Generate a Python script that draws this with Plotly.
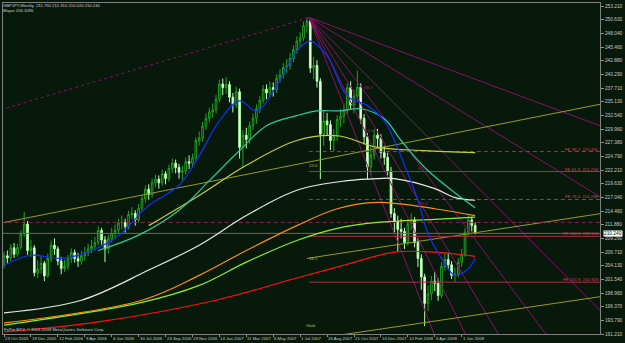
import plotly.graph_objects as go

# ---------------- data (weekly GBPJPY, bar index 0 = 23 Oct 2005) ----------------
week_idx = list(range(141))
opens = [204.3,206.0,205.6,207.5,206.3,207.6,210.2,212.0,207.0,207.5,
 202.8,203.5,204.6,202.2,205.5,208.0,207.3,205.0,203.6,204.0,
 205.5,206.6,205.5,205.0,206.0,206.6,207.3,207.8,208.5,210.8,
 209.0,207.3,209.2,210.2,210.8,212.2,212.3,211.5,213.8,214.0,
 212.8,215.0,216.8,218.6,217.6,219.8,220.5,219.8,221.5,220.6,
 222.5,223.5,222.7,221.8,222.0,223.8,223.5,224.5,227.8,228.3,
 230.5,232.0,233.2,233.6,235.6,238.5,237.8,238.4,236.0,234.6,
 237.0,226.5,228.8,228.0,230.6,232.0,233.8,235.4,237.5,236.8,
 237.8,237.4,239.5,240.2,241.6,242.0,243.3,245.0,246.6,247.2,
 249.5,250.4,241.5,242.0,239.0,229.0,231.5,230.8,227.8,228.6,
 231.8,232.4,233.5,237.8,234.5,236.2,237.9,232.0,228.5,222.8,
 225.0,228.8,228.2,225.5,224.6,222.0,214.0,212.5,211.0,210.6,
 208.5,212.0,212.8,208.5,205.5,202.0,197.0,198.8,201.2,200.8,
 198.5,204.0,205.3,204.3,202.3,202.5,204.8,206.2,210.5,212.8,
 211.75]
closes = [206.0,205.6,207.5,206.3,207.6,210.2,212.0,207.0,207.5,202.8,
 203.5,204.6,202.2,205.5,208.0,207.3,205.0,203.6,204.0,205.5,
 206.6,205.5,205.0,206.0,206.6,207.3,207.8,208.5,210.8,209.0,
 207.3,209.2,210.2,210.8,212.2,212.3,211.5,213.8,214.0,212.8,
 215.0,216.8,218.6,217.6,219.8,220.5,219.8,221.5,220.6,222.5,
 223.5,222.7,221.8,222.0,223.8,223.5,224.5,227.8,228.3,230.5,
 232.0,233.2,233.6,235.6,238.5,237.8,238.4,236.0,234.6,237.0,
 226.5,228.8,228.0,230.6,232.0,233.8,235.4,237.5,236.8,237.8,
 237.4,239.5,240.2,241.6,242.0,243.3,245.0,246.6,247.2,249.5,
 250.4,241.5,242.0,239.0,229.0,231.5,230.8,227.8,228.6,231.8,
 232.4,233.5,237.8,234.5,236.2,237.9,232.0,228.5,222.8,225.0,
 228.8,228.2,225.5,224.6,222.0,214.0,212.5,211.0,210.6,208.5,
 212.0,212.8,208.5,205.5,202.0,197.0,198.8,201.2,200.8,198.5,
 204.0,205.3,204.3,202.3,202.5,204.8,206.2,210.5,212.8,211.75,
 210.24]
highs = [206.8,207.0,208.2,208.4,208.3,210.8,214.3,212.6,209.0,208.0,
 205.2,205.9,205.0,206.4,208.9,209.3,207.8,205.8,205.3,206.2,
 207.4,207.2,206.5,206.9,207.7,208.3,209.0,209.6,211.6,211.3,
 209.7,210.0,211.3,211.9,213.0,213.6,213.0,214.5,215.2,214.6,
 215.8,217.5,219.3,219.5,220.6,221.4,221.2,222.3,222.0,223.2,
 224.4,224.2,223.4,223.0,224.6,225.0,225.3,228.4,229.5,231.3,
 232.9,234.0,234.8,236.4,239.3,239.5,239.8,239.0,236.8,238.0,
 237.6,229.8,230.2,231.4,232.9,234.6,236.2,238.3,238.4,238.9,
 238.8,240.3,241.3,242.4,243.2,244.3,245.8,247.5,248.3,250.3,
 251.1,250.8,243.6,243.0,239.6,233.4,233.0,231.6,230.0,232.6,
 233.8,234.8,238.6,239.0,237.4,241.0,238.6,232.8,229.2,226.8,
 229.9,230.0,229.0,226.8,225.5,222.8,215.0,213.6,213.0,211.3,
 212.9,214.0,213.3,209.3,206.3,202.6,200.4,202.2,203.0,201.8,
 204.8,206.4,206.6,205.0,203.8,205.6,207.3,211.2,213.6,213.4,
 212.31]
lows = [203.6,204.5,205.0,205.6,205.8,207.2,209.6,206.2,205.8,202.1,
 201.8,202.6,201.2,201.9,204.8,206.2,204.2,202.5,202.9,203.3,
 204.6,204.7,203.9,204.3,205.1,205.9,206.5,207.0,208.0,208.1,
 204.8,206.4,208.5,209.2,210.1,211.0,210.4,211.0,212.9,211.7,
 212.3,214.4,216.1,216.6,217.0,218.9,218.7,219.2,219.5,220.0,
 221.7,221.6,220.6,220.3,221.4,222.4,222.7,224.0,226.8,227.6,
 229.8,231.2,232.1,232.9,235.0,236.4,236.6,235.0,233.1,233.9,
 224.4,222.6,226.3,227.2,229.8,231.0,233.0,234.8,235.6,236.0,
 236.1,236.8,238.8,239.5,240.6,241.2,242.6,244.2,245.5,246.6,
 248.2,240.6,239.4,237.8,220.5,226.8,228.7,226.0,225.8,227.7,
 230.4,231.0,232.8,233.6,233.0,235.4,231.0,227.0,220.5,221.4,
 224.2,226.3,224.4,223.2,221.2,213.2,210.4,206.8,209.3,207.3,
 207.9,210.9,207.6,203.9,199.6,192.7,195.5,197.6,199.3,197.5,
 198.0,203.2,203.4,201.6,201.0,202.0,203.9,205.8,209.8,210.6,
 210.02]

# moving averages (bar index, price)
ma_blue_i = [0,8,17,26,34,43,52,58,64,70,75,81,87,91,96,102,108,113,116,120,123,126,130,134,138,140]
ma_blue_p = [204.2,206.1,205.5,207.0,209.8,215.5,219.3,224.9,231.5,235.3,233.4,238.1,244.7,246.6,243.8,236.2,234.4,231.5,227.8,221.6,216.5,210.2,205.5,202.3,203.6,205.5]
ma_teal_i = [28,40,52,61,70,78,87,93,100,106,113,118,125,133,140]
ma_teal_p = [207.0,209.9,214.6,220.2,225.9,230.6,232.5,233.4,233.4,233.8,231.9,227.8,222.7,218.4,215.1]
ma_white_i = [0,23,43,58,72,87,102,111,116,128,134,140]
ma_white_p = [195.2,197.6,203.3,208.0,213.6,218.4,220.2,220.6,220.6,218.7,217.0,216.5]
ma_yellow_i = [43,58,72,87,99,111,125,140]
ma_yellow_p = [211.7,217.4,223.1,227.8,228.7,226.5,225.9,225.5]
ma_orange_i = [0,41,58,72,87,99,111,128,140]
ma_orange_p = [193.3,197.6,202.3,207.0,211.7,214.9,216.1,214.9,213.6]
ma_lime_i = [0,41,58,72,87,99,111,128,140]
ma_lime_p = [192.9,197.2,200.4,204.8,208.9,211.2,212.3,212.9,213.3]
ma_red_i = [0,28,63,87,102,116,128,140]
ma_red_p = [191.6,193.5,197.6,201.8,204.4,206.7,206.7,205.9]

# price axis labels and time labels
price_ticks = [191.210,193.790,196.370,198.960,201.540,204.130,206.710,209.290,211.880,214.460,
               217.040,219.630,222.210,224.790,227.380,229.960,232.540,235.130,237.710,240.290,
               242.880,245.460,248.040,250.630,253.210]
date_idx = [0,8,16,24,32,40,48,56,64,72,80,88,96,104,112,120,128,136]
date_text = ["23 Oct 2005","18 Dec 2005","12 Feb 2006","9 Apr 2006","4 Jun 2006","30 Jul 2006",
             "24 Sep 2006","19 Nov 2006","14 Jan 2007","11 Mar 2007","6 May 2007","1 Jul 2007",
             "26 Aug 2007","21 Oct 2007","16 Dec 2007","10 Feb 2008","6 Apr 2008","1 Jun 2008"]

# drawn objects
peak_i, peak_p = 90.6, 251.1
fan_end_i = [177.5, 177.5, 177.5, 161.0, 146.9, 137.1, 127.8]
fan_end_p = [230.5, 217.0, 195.4, 191.2, 191.2, 191.2, 191.2]
fan_lbl_i = [108.2, 108.5, 124.3, 124.6]
fan_lbl_p = [237.9, 229.7, 222.5, 215.9]
fan_lbl_t = ["38.2", "50.0", "61.8", "76.4"]
fe_levels = [225.70, 221.93, 216.65, 209.68, 201.01]
fe_text = ["FE 38.2  225.460", "FE 61.8  221.294", "FE 76.4  216.288", "FE 100.0  209.506", "FE 161.8  200.926"]
fe_dash = ["dash", "solid", "dash", "solid", "solid"]
chan_up_i, chan_up_p = [0, 177.5], [212.3, 234.7]
chan_mid_i, chan_mid_p = [90.0, 177.5], [205.5, 214.0]
chan_lo_i, chan_lo_p = [99.7, 177.5], [191.0, 198.3]
chan_lbl_i = [90.0, 90.0, 89.2]
chan_lbl_p = [223.1, 205.5, 192.9]
chan_lbl_t = ["23.6", "38.2", "Glob"]
dotted_i, dotted_p = [-1, 90.6], [233.6, 251.0]
level_dash = 212.32
bid = 210.24

BG = "#07190a"
fig = go.Figure()

for x1, p1 in zip(fan_end_i, fan_end_p):
    fig.add_trace(go.Scatter(x=[peak_i, x1], y=[peak_p, p1], mode="lines",
                             line=dict(color="#8c0f68", width=1), hoverinfo="skip"))
fig.add_trace(go.Scatter(x=dotted_i, y=dotted_p, mode="lines",
                         line=dict(color="#8c0f68", width=1, dash="dot"), hoverinfo="skip"))
for xs, ys in [(chan_up_i, chan_up_p), (chan_mid_i, chan_mid_p), (chan_lo_i, chan_lo_p)]:
    fig.add_trace(go.Scatter(x=xs, y=ys, mode="lines", line=dict(color="#9a9a20", width=1), hoverinfo="skip"))
for lv, dsh in zip(fe_levels, fe_dash):
    fig.add_trace(go.Scatter(x=[90.6, 177.5], y=[lv, lv], mode="lines",
                             line=dict(color="#a83040" if dsh == "solid" else "#c0285a", width=1,
                                       dash="4px,3px" if dsh == "dash" else "solid"),
                             hoverinfo="skip"))
fig.add_trace(go.Scatter(x=[-1, 177.5], y=[level_dash, level_dash], mode="lines",
                         line=dict(color="#a01858", width=1, dash="4px,3px"), hoverinfo="skip"))
fig.add_trace(go.Scatter(x=[-1, 177.5], y=[bid, bid], mode="lines",
                         line=dict(color="#6a6a6a", width=1), hoverinfo="skip"))

fig.add_trace(go.Candlestick(x=week_idx, open=opens, high=highs, low=lows, close=closes,
                             increasing=dict(line=dict(color="#22a022", width=1), fillcolor=BG),
                             decreasing=dict(line=dict(color="#b8ffb0", width=1), fillcolor="#f4ffee"),
                             whiskerwidth=0, hoverinfo="skip"))

for xs, ys, col in [(ma_red_i, ma_red_p, "#ff1010"), (ma_lime_i, ma_lime_p, "#8cf020"),
                    (ma_orange_i, ma_orange_p, "#ff8c10"), (ma_yellow_i, ma_yellow_p, "#c8d030"),
                    (ma_white_i, ma_white_p, "#e8e8e8"), (ma_teal_i, ma_teal_p, "#20d0a0"),
                    (ma_blue_i, ma_blue_p, "#1030ff")]:
    fig.add_trace(go.Scatter(x=xs, y=ys, mode="lines", line=dict(color=col, width=1.2, shape="spline"),
                             hoverinfo="skip"))

F = "Liberation Sans"
ann = []
for i, t in zip(date_idx, date_text):
    ann.append(dict(x=i, y=0, xref="x", yref="paper", text=t, showarrow=False, xanchor="left",
                    yanchor="top", xshift=-1, yshift=0, font=dict(family=F, size=4.3, color="#c8c8c8")))
for lv, t in zip(fe_levels, fe_text):
    ann.append(dict(x=177.1, y=lv, xref="x", yref="y", text=t, showarrow=False, xanchor="right",
                    yanchor="bottom", yshift=-2, xshift=1, font=dict(family=F, size=4.3, color="#d04060")))
for xi, pv, t in zip(fan_lbl_i, fan_lbl_p, fan_lbl_t):
    ann.append(dict(x=xi, y=pv, xref="x", yref="y", text=t, showarrow=False, xanchor="center",
                    font=dict(family=F, size=4.3, color="#b02070")))
for xi, pv, t in zip(chan_lbl_i, chan_lbl_p, chan_lbl_t):
    ann.append(dict(x=xi, y=pv, xref="x", yref="y", text=t, showarrow=False, xanchor="left",
                    font=dict(family=F, size=4.3, color="#b8b840")))
ann.append(dict(x=0, y=1, xref="paper", yref="paper", xanchor="left", yanchor="top", xshift=-2, yshift=2,
                text="GBPJPY,Weekly  211.750 212.310 210.020 210.240<br>Mayor 205.1096", showarrow=False,
                align="left", font=dict(family=F, size=4.2, color="#d0d0d0")))
ann.append(dict(x=0, y=0, xref="paper", yref="paper", xanchor="left", yanchor="bottom", xshift=-1,
                text="FxPro MT4, © 2001-2008 MetaQuotes Software Corp.", showarrow=False,
                font=dict(family=F, size=4.2, color="#c8c8c8")))
ann.append(dict(x=1.0, y=bid, xref="paper", yref="y", xanchor="left", text="210.240", showarrow=False,
                xshift=3, bgcolor="#ffffff", borderpad=0, font=dict(family=F, size=4.8, color="#000000")))

fig.update_layout(
    width=625, height=343, margin=dict(l=2, r=17, t=2, b=9),
    paper_bgcolor=BG, plot_bgcolor=BG, showlegend=False, annotations=ann,
    xaxis=dict(range=[-0.3, 177.1], rangeslider=dict(visible=False), showgrid=False, zeroline=False,
               tickvals=date_idx, showticklabels=False, ticks="outside", ticklen=2, tickcolor="#909090",
               showline=True, linecolor="#808080", mirror=True),
    yaxis=dict(range=[191.21, 253.8], side="right", showgrid=False, zeroline=False,
               tickvals=price_ticks, ticktext=[f"{v:.3f}" for v in price_ticks], ticks="outside",
               ticklen=3, tickcolor="#909090", tickfont=dict(family=F, size=4.8, color="#c8c8c8"),
               showline=True, linecolor="#808080", mirror=True),
)
fig.write_html("out.html")
